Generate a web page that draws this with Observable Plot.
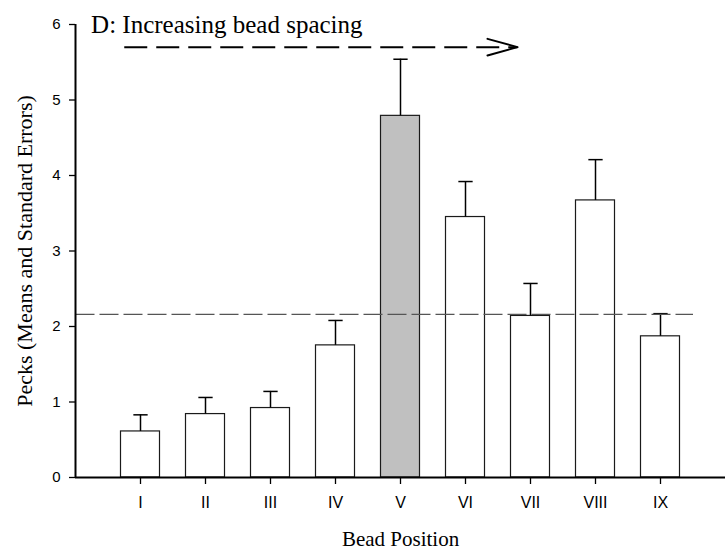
<!DOCTYPE html>
<html><head><meta charset="utf-8">
<script src="https://cdn.jsdelivr.net/npm/d3@7"></script>
<script src="https://cdn.jsdelivr.net/npm/@observablehq/plot@0.6"></script>
<style>body{margin:0;background:#fff}</style>
</head><body><div id="chart"></div>
<script>
// ---- data ----
const positions = ["I", "II", "III", "IV", "V", "VI", "VII", "VIII", "IX"];
const means = [0.61, 0.84, 0.92, 1.75, 4.79, 3.45, 2.14, 3.67, 1.87];
const stdErrors = [0.22, 0.22, 0.22, 0.33, 0.75, 0.47, 0.43, 0.54, 0.30];
const highlighted = "V";
const referenceLevel = 2.16;
const yTicks = [0, 1, 2, 3, 4, 5, 6];

// ---- annotation values ----
const titleText = "D: Increasing bead spacing";
const titlePos = [{x: 0.24, y: 6}];
const arrowSpan = [{x1: 0.75, x2: 6.8, y: 5.7}];
const referenceSpan = [{x1: 0, x2: 9.5}];
const yLabel = "Pecks (Means and Standard Errors)";
const xLabel = "Bead Position";

const data = positions.map((p, i) => ({
  pos: p, idx: i + 1, mean: means[i], se: stdErrors[i], top: means[i] + stdErrors[i]
}));

const serif = "Liberation Serif, Times New Roman, serif";
const sans = "Liberation Sans, Arial, sans-serif";

const chevron = {
  draw(ctx, l) {
    ctx.moveTo(-8.3, -l + 30);
    ctx.lineTo(0, -l);
    ctx.lineTo(8.3, -l + 30);
  }
};

const chart = Plot.plot({
  width: 726,
  height: 552,
  marginLeft: 75,
  marginRight: 1,
  marginTop: 24,
  marginBottom: 75,
  style: {fontFamily: sans, fontSize: "15px", background: "white", color: "black"},
  x: {domain: [0, 10]},
  y: {domain: [0, 6]},
  marks: [
    Plot.rect(data, {
      x1: d => d.idx - 0.3, x2: d => d.idx + 0.3, y1: 0, y2: "mean",
      fill: d => d.pos === highlighted ? "#c0c0c0" : "white",
      stroke: "#1a1a1a", strokeWidth: 1.2
    }),
    Plot.ruleX(data, {x: "idx", y1: "mean", y2: "top", stroke: "black", strokeWidth: 1.5}),
    Plot.link(data, {x1: d => d.idx - 0.11, x2: d => d.idx + 0.11, y1: "top", y2: "top", stroke: "black", strokeWidth: 1.5}),
    Plot.link(referenceSpan, {x1: "x1", x2: "x2", y1: () => referenceLevel, y2: () => referenceLevel,
      stroke: "#555", strokeWidth: 1.2, strokeDasharray: "19,5"}),
    Plot.ruleY([0], {stroke: "black", strokeWidth: 2}),
    Plot.ruleX([0], {y1: 0, y2: 6, stroke: "black", strokeWidth: 2}),
    Plot.axisY({ticks: yTicks, tickFormat: d3.format("d"), tickSize: 6, tickPadding: 9, fontSize: 15, label: null, strokeWidth: 1.3}),
    Plot.axisX({ticks: data.map(d => d.idx), tickFormat: i => positions[i - 1], tickSize: 7, tickPadding: 12, fontSize: 16, label: null, strokeWidth: 1.3}),
    Plot.text(titlePos, {x: "x", y: "y", text: () => titleText, textAnchor: "start", fontFamily: serif, fontSize: 25}),
    Plot.link(arrowSpan, {x1: "x1", x2: "x2", y1: "y", y2: "y", stroke: "black", strokeWidth: 2, strokeDasharray: "23,9"}),
    Plot.vector(arrowSpan, {x: "x2", y: "y", length: 30, rotate: 90, anchor: "end", shape: chevron, stroke: "black", strokeWidth: 2}),
    Plot.text([yLabel], {frameAnchor: "left", dx: -51, rotate: -90, textAnchor: "middle", lineAnchor: "middle", text: d => d, fontFamily: serif, fontSize: 22}),
    Plot.text([xLabel], {frameAnchor: "bottom", dy: 62, textAnchor: "middle", lineAnchor: "middle", text: d => d, fontFamily: serif, fontSize: 21})
  ]
});
document.getElementById("chart").append(chart);
</script>
</body></html>
